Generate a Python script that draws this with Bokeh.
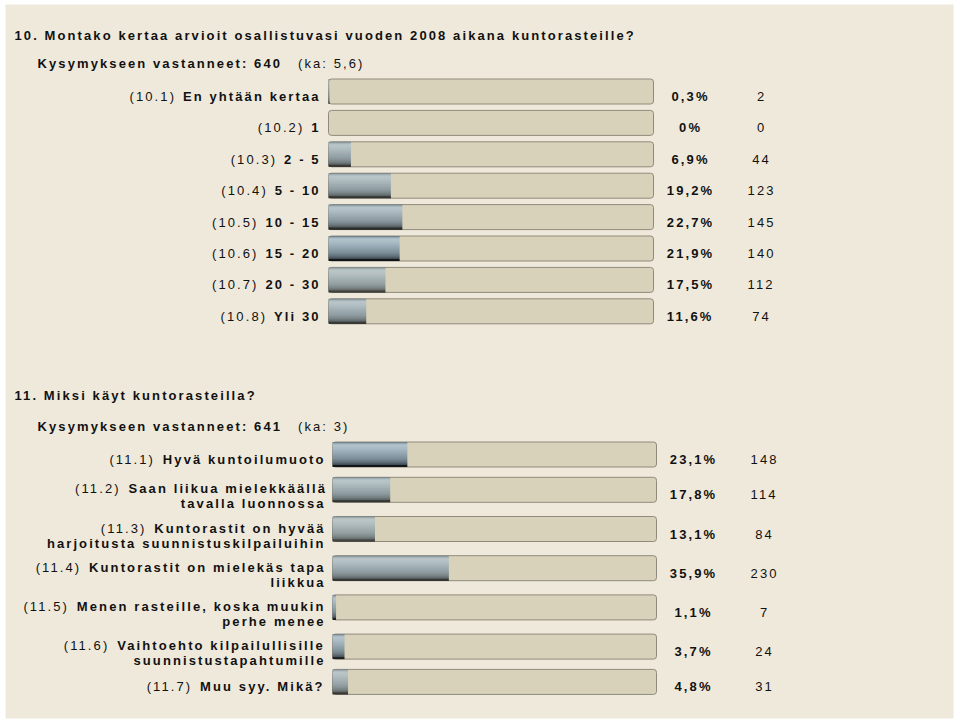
from bokeh.plotting import figure
from bokeh.models import ColumnDataSource, Range1d, InlineStyleSheet
from bokeh.core.properties import value
from bokeh.embed import file_html
from bokeh.resources import INLINE

# ---------------- data ----------------
q1_title = "10. Montako kertaa arvioit osallistuvasi vuoden 2008 aikana kuntorasteille?"
q1_answered = "Kysymykseen vastanneet: 640"
q1_mean = "(ka: 5,6)"
q1_codes = ["(10.1)", "(10.2)", "(10.3)", "(10.4)", "(10.5)", "(10.6)", "(10.7)", "(10.8)"]
q1_options = [["En yhtään kertaa"], ["1"], ["2 - 5"], ["5 - 10"], ["10 - 15"],
              ["15 - 20"], ["20 - 30"], ["Yli 30"]]
q1_pct = [0.3, 0.0, 6.9, 19.2, 22.7, 21.9, 17.5, 11.6]
q1_n = [2, 0, 44, 123, 145, 140, 112, 74]

q2_title = "11. Miksi käyt kuntorasteilla?"
q2_answered = "Kysymykseen vastanneet: 641"
q2_mean = "(ka: 3)"
q2_codes = ["(11.1)", "(11.2)", "(11.3)", "(11.4)", "(11.5)", "(11.6)", "(11.7)"]
q2_options = [["Hyvä kuntoilumuoto"],
              ["Saan liikua mielekkäällä", "tavalla luonnossa"],
              ["Kuntorastit on hyvää", "harjoitusta suunnistuskilpailuihin"],
              ["Kuntorastit on mielekäs tapa", "liikkua"],
              ["Menen rasteille, koska muukin", "perhe menee"],
              ["Vaihtoehto kilpailullisille", "suunnistustapahtumille"],
              ["Muu syy. Mikä?"]]
q2_pct = [23.1, 17.8, 13.1, 35.9, 1.1, 3.7, 4.8]
q2_n = [148, 114, 84, 230, 7, 24, 31]

# ---------------- layout / style ----------------
W, H = 959, 722
FONT = "Liberation Sans"
FS = 13
LS = 2.1  # letter spacing (px)
BG = "#EFE9DB"
TRACK = "#D9D2BA"
TRACK_LINE = "#8F8A7C"
BAR_H = 25

BOLD = {' ': 278, '!': 333, '%': 889, '(': 333, ')': 333, ',': 278, '-': 333, '.': 278,
        ':': 333, '?': 611, 'A': 722, 'E': 667, 'H': 722, 'K': 722, 'M': 833, 'V': 667,
        'Y': 667, 'a': 556, 'b': 611, 'c': 556, 'd': 611, 'e': 556, 'f': 333, 'g': 611,
        'h': 611, 'i': 278, 'j': 278, 'k': 556, 'l': 278, 'm': 889, 'n': 611, 'o': 611,
        'p': 611, 'q': 611, 'r': 389, 's': 556, 't': 333, 'u': 611, 'v': 556, 'w': 778,
        'x': 556, 'y': 556, 'z': 500, 'ä': 556}
REG = {' ': 278, '(': 333, ')': 333, ',': 278, '.': 278, ':': 278, '%': 889, 'a': 556,
       'k': 500}


def tw(s, bold=True):
    table = BOLD if bold else REG
    return sum(table.get(ch, 556) for ch in s) * FS / 1000.0 + (len(s) - 1) * LS


def fmt_pct(v):
    return "0%" if v == 0 else (f"{v:.1f}".replace(".", ",") + "%")


def hex2rgb(h):
    return tuple(int(h[i:i + 2], 16) for i in (1, 3, 5))


# colour stops of the metallic value bar, (offset from bar top in px, colour)
STOPS = [(0.0, "#5E6D76"), (1.2, "#8FA2AD"), (3.0, "#B4C4CD"), (7.0, "#A6B8C3"),
         (12.0, "#90A3AE"), (17.0, "#7A8C97"), (20.5, "#5C6B74"), (22.8, "#3C474E"),
         (23.3, "#15191C"), (25.0, "#101214")]


def band_colour(t):
    for (t0, c0), (t1, c1) in zip(STOPS[:-1], STOPS[1:]):
        if t0 <= t <= t1:
            f = 0 if t1 == t0 else (t - t0) / (t1 - t0)
            a, b = hex2rgb(c0), hex2rgb(c1)
            return "#%02x%02x%02x" % tuple(round(a[k] + (b[k] - a[k]) * f) for k in range(3))
    return STOPS[-1][1]


p = figure(width=W, height=H, output_backend="svg", toolbar_location=None,
           x_range=Range1d(0, W), y_range=Range1d(H, 0), min_border=0,
           x_axis_location=None, y_axis_location=None,
           background_fill_color="white", border_fill_color="white",
           outline_line_color=None)
p.grid.visible = False
p.stylesheets = [InlineStyleSheet(css=":host { letter-spacing: %.1fpx; }" % LS)]

# beige panel
p.quad(left=[5], right=[953], top=[4], bottom=[718], fill_color=BG, line_color=None)

sections = [
    dict(name="s1", title=q1_title, answered=q1_answered, mean=q1_mean, codes=q1_codes,
         options=q1_options, pct=q1_pct, n=q1_n, left=328, width=325, first=91,
         title_y=35, sub_y=63, gap=10),
    dict(name="s2", title=q2_title, answered=q2_answered, mean=q2_mean, codes=q2_codes,
         options=q2_options, pct=q2_pct, n=q2_n, left=332, width=324, first=454,
         title_y=395, sub_y=426, gap=9),
]

p.extra_x_ranges = {}
for s in sections:
    sc = s["width"] / 100.0
    p.extra_x_ranges[s["name"]] = Range1d(-s["left"] / sc, (W - s["left"]) / sc)

NB = 25  # 1px bands
band_off = [(k + 0.5) for k in range(NB)]
band_col = [band_colour(o) for o in band_off]

title_src = dict(x=[], y=[], text=[])
reg_title_src = dict(x=[], y=[], text=[])

for s in sections:
    rng = s["name"]
    # row centres
    halves = [15.7 if len(o) == 1 else 19.6 for o in s["options"]]
    cs = [s["first"]]
    for i in range(1, len(halves)):
        cs.append(cs[-1] + halves[i - 1] + halves[i])

    # tracks
    p.hbar(y=cs, left=0, right=[100] * len(cs), height=BAR_H, fill_color=TRACK,
           line_color=TRACK_LINE, line_width=1, border_radius=3, x_range_name=rng)
    # value bars: thin horizontal bands imitate the metallic gradient
    bsrc = dict(y=[], right=[], color=[])
    for c, v in zip(cs, s["pct"]):
        for o, col in zip(band_off, band_col):
            bsrc["y"].append(c - BAR_H / 2 + o)
            bsrc["right"].append(v)
            bsrc["color"].append(col)
    p.hbar(y="y", left=0, right="right", height=1.05, fill_color="color", line_color=None,
           source=ColumnDataSource(bsrc), x_range_name=rng)

    bold_src = dict(x=[], y=[], text=[], xo=[])
    reg_src = dict(x=[], y=[], text=[], xo=[])
    for code, lines, pct, n, c in zip(s["codes"], s["options"], s["pct"], s["n"], cs):
        gap = s["gap"]
        ys = [c + 5] if len(lines) == 1 else [c - 1, c + 14]
        for j, (ln, yy) in enumerate(zip(lines, ys)):
            wb = tw(ln, True)
            bold_src["x"].append(0); bold_src["y"].append(yy)
            bold_src["text"].append(ln); bold_src["xo"].append(-gap - wb)
            if j == 0:
                wp = tw(code, False)
                reg_src["x"].append(0); reg_src["y"].append(yy)
                reg_src["text"].append(code); reg_src["xo"].append(-gap - wb - 9 - wp)
        pt = fmt_pct(pct)
        bold_src["x"].append(100); bold_src["y"].append(c + 5)
        bold_src["text"].append(pt); bold_src["xo"].append(36 - tw(pt, True) / 2)
        nt = str(n)
        reg_src["x"].append(100); reg_src["y"].append(c + 5)
        reg_src["text"].append(nt); reg_src["xo"].append(107 - tw(nt, False) / 2)

    p.text(x="x", y="y", text="text", x_offset="xo", source=ColumnDataSource(bold_src),
           text_font=value(FONT), text_font_size=f"{FS}px", text_font_style="bold",
           text_color="#111111", text_baseline="alphabetic", text_align="left",
           x_range_name=rng)
    p.text(x="x", y="y", text="text", x_offset="xo", source=ColumnDataSource(reg_src),
           text_font=value(FONT), text_font_size=f"{FS}px", text_font_style="normal",
           text_color="#111111", text_baseline="alphabetic", text_align="left",
           x_range_name=rng)

    title_src["x"] += [14, 37]
    title_src["y"] += [s["title_y"], s["sub_y"]]
    title_src["text"] += [s["title"], s["answered"]]
    reg_title_src["x"].append(37 + tw(s["answered"], True) + 18)
    reg_title_src["y"].append(s["sub_y"])
    reg_title_src["text"].append(s["mean"])

p.text(x="x", y="y", text="text", source=ColumnDataSource(title_src),
       text_font=value(FONT), text_font_size=f"{FS}px", text_font_style="bold",
       text_color="#111111", text_baseline="alphabetic", text_align="left")
p.text(x="x", y="y", text="text", source=ColumnDataSource(reg_title_src),
       text_font=value(FONT), text_font_size=f"{FS}px", text_font_style="normal",
       text_color="#111111", text_baseline="alphabetic", text_align="left")

open("out.html", "w").write(file_html(p, INLINE))
